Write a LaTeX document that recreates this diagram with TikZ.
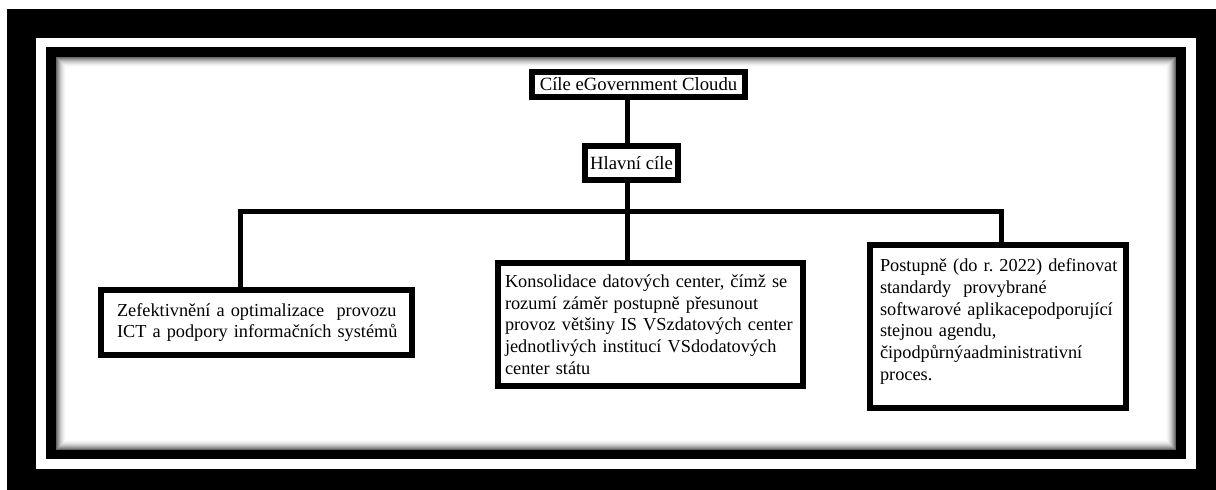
\documentclass[tikz,border=0pt]{standalone}
\usepackage{fontspec}
\setmainfont{Liberation Serif}
\frenchspacing
\begin{document}
\begin{tikzpicture}[x=1pt,y=-1pt,
  box/.style={draw=black, line width=6pt, fill=white, align=left, inner ysep=0pt,
    font=\fontsize{18.3}{21.7}\selectfont},
  headbox/.style={box, inner xsep=0pt, font=\fontsize{18.7}{21.7}\selectfont},
  conn/.style={draw=black, line width=5pt, line join=miter}]
\useasboundingbox (0,0) rectangle (1216,490);
% frame
\fill[black] (7,9) rectangle (1216,490);
\fill[white] (36,38) rectangle (1196,469);
\fill[black] (46,47) rectangle (1186,459);
\fill[white] (56,57) rectangle (1176,450);
\foreach \i in {0,...,10}{
  \pgfmathsetmacro\c{int(60*(1-\i/11)^2)}
  \draw[black!\c, line width=1pt] (56.5+\i,57.5+\i) rectangle (1175.5-\i,449.5-\i);
}
% boxes
\node[headbox, minimum width=213pt, minimum height=25pt] (top) at (638.5,84.5) {Cíle eGovernment Cloudu};
\node[headbox, minimum width=93pt, minimum height=34pt] (hl) at (631.5,163) {Hlavní cíle};
\node[box, text width=279pt, inner xsep=16pt, minimum height=65pt] (left) at (256.5,322.5)
  {\mbox{Zefektivnění a optimalizace\ \ provozu}\\\mbox{ICT a podpory informačních systémů}};
\node[box, text width=291pt, inner xsep=7pt, minimum height=123pt] (mid) at (650.5,324.5)
  {\mbox{Konsolidace datových center, čímž se}\\\mbox{rozumí záměr postupně přesunout}\\\mbox{provoz většiny IS VSzdatových center}\\\mbox{jednotlivých institucí VSdodatových}\\\mbox{center státu}};
\node[box, text width=236pt, inner xsep=10pt, minimum height=163pt] (right) at (998,326.5)
  {\mbox{Postupně (do r. 2022) definovat}\\\mbox{standardy\ \ provybrané}\\\mbox{softwarové aplikacepodporující}\\\mbox{stejnou agendu,}\\\mbox{čipodpůrnýaadministrativní}\\\mbox{proces.}\\[-8pt]\mbox{}};
% connectors
\coordinate (sp) at (627.5,211);
\coordinate (bl) at (240,211);
\coordinate (br) at (1001.5,211);
\draw[conn] (sp |- top.south) -- (sp |- hl.north);
\draw[conn] (sp |- hl.south) -- (sp |- mid.north);
\draw[conn] (bl |- left.north) -- (bl) -- (br) -- (br |- right.north);
\end{tikzpicture}
\end{document}
